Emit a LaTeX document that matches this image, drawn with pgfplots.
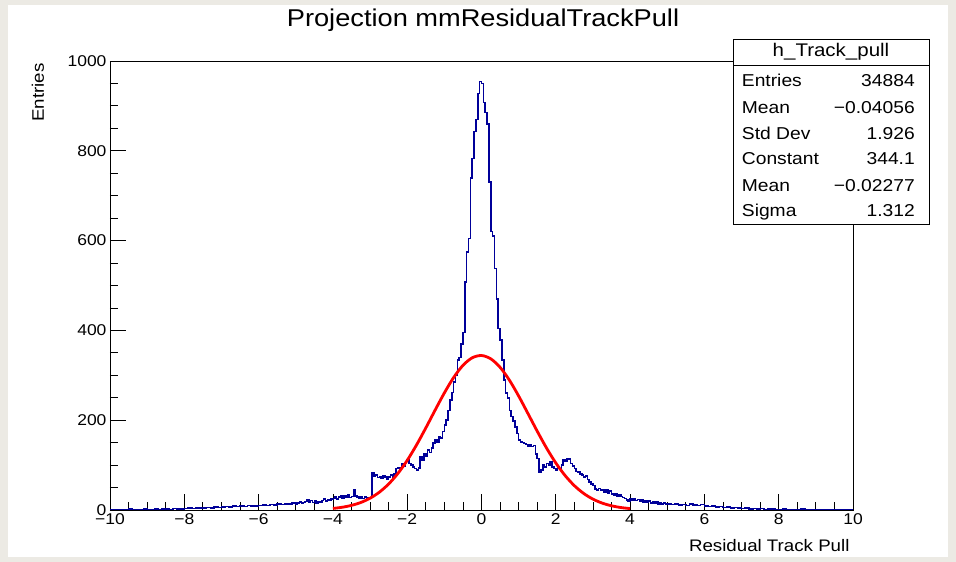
\documentclass[border=0pt]{standalone}
\usepackage{pgfplots}
\usepackage{pgfplotstable}
\pgfplotsset{compat=1.18}
\usepackage{fontspec}
\setmainfont{Liberation Sans}[FakeStretch=1.12]
\definecolor{rootblue}{RGB}{0,0,153}
\definecolor{bgbeige}{RGB}{236,234,228}

\pgfplotstableread{
x y
-10.0 1
-9.9 0
-9.8 1
-9.7 0
-9.6 1
-9.5 2
-9.4 1
-9.3 1
-9.2 0
-9.1 2
-9.0 1
-8.9 1
-8.8 2
-8.7 1
-8.6 2
-8.5 2
-8.4 1
-8.3 3
-8.2 2
-8.1 2
-8.0 3
-7.9 4
-7.8 3
-7.7 5
-7.6 4
-7.5 5
-7.4 6
-7.3 5
-7.2 7
-7.1 6
-7.0 7
-6.9 8
-6.8 7
-6.7 9
-6.6 8
-6.5 9
-6.4 8
-6.3 10
-6.2 9
-6.1 9
-6.0 10
-5.9 11
-5.8 10
-5.7 12
-5.6 11
-5.5 13
-5.4 12
-5.3 14
-5.2 13
-5.1 15
-5.00 14
-4.95 16
-4.90 18
-4.85 15
-4.80 17
-4.75 19
-4.70 22
-4.65 18
-4.60 21
-4.55 17
-4.50 20
-4.45 16
-4.40 19
-4.35 18
-4.30 21
-4.25 24
-4.20 20
-4.15 23
-4.10 22
-4.05 25
-4.00 26
-3.95 30
-3.90 24
-3.85 29
-3.80 32
-3.75 27
-3.70 31
-3.65 29
-3.60 33
-3.55 28
-3.50 30
-3.45 44
-3.40 31
-3.35 29
-3.30 27
-3.25 30
-3.20 26
-3.15 29
-3.10 25
-3.05 27
-3.00 28
-2.95 82
-2.90 76
-2.85 78
-2.80 72
-2.75 75
-2.70 70
-2.65 76
-2.60 74
-2.55 68
-2.50 74
-2.45 78
-2.40 72
-2.35 80
-2.30 92
-2.25 95
-2.20 90
-2.15 103
-2.10 98
-2.05 108
-2.00 111
-1.95 104
-1.90 100
-1.85 96
-1.80 92
-1.75 89
-1.70 94
-1.65 119
-1.60 112
-1.55 126
-1.50 120
-1.45 134
-1.40 128
-1.35 138
-1.30 149
-1.25 156
-1.20 152
-1.15 164
-1.10 160
-1.05 175
-1.00 189
-0.95 200
-0.90 222
-0.85 245
-0.80 262
-0.75 285
-0.70 300
-0.65 334
-0.60 340
-0.55 370
-0.50 395
-0.45 508
-0.40 575
-0.35 605
-0.30 739
-0.25 783
-0.20 843
-0.15 870
-0.10 928
-0.05 954
0.00 950
0.05 908
0.10 885
0.15 860
0.20 731
0.25 620
0.30 610
0.35 538
0.40 470
0.45 404
0.50 378
0.55 334
0.60 289
0.65 260
0.70 250
0.75 222
0.80 208
0.85 198
0.90 185
0.95 170
1.00 156
1.05 152
1.10 150
1.15 148
1.20 146
1.25 142
1.30 146
1.35 141
1.40 144
1.45 125
1.50 115
1.55 85
1.60 89
1.65 100
1.70 96
1.75 104
1.80 100
1.85 108
1.90 96
1.95 92
2.00 89
2.05 94
2.10 90
2.15 100
2.20 112
2.25 108
2.30 115
2.35 113
2.40 104
2.45 98
2.50 92
2.55 86
2.60 84
2.65 80
2.70 78
2.75 74
2.80 76
2.85 68
2.90 62
2.95 58
3.00 55
3.05 47
3.10 45
3.15 48
3.20 44
3.25 46
3.30 40
3.35 44
3.40 38
3.45 42
3.50 36
3.55 34
3.60 37
3.65 31
3.70 33
3.75 30
3.80 28
3.85 26
3.90 22
3.95 20
4.00 24
4.05 22
4.10 25
4.15 21
4.20 23
4.25 19
4.30 22
4.35 18
4.40 21
4.45 17
4.50 20
4.55 16
4.60 19
4.65 15
4.70 18
4.75 14
4.80 17
4.85 13
4.90 16
4.95 14
5.0 13
5.1 12
5.2 14
5.3 11
5.4 12
5.5 10
5.6 13
5.7 11
5.8 10
5.9 12
6.0 9
6.1 8
6.2 9
6.3 7
6.4 8
6.5 6
6.6 7
6.7 5
6.8 6
6.9 4
7.0 3
7.1 4
7.2 2
7.3 3
7.4 2
7.5 3
7.6 1
7.7 2
7.8 2
7.9 1
8.0 1
8.1 2
8.2 0
8.3 1
8.4 1
8.5 0
8.6 2
8.7 1
8.8 0
8.9 1
9.0 1
9.1 0
9.2 1
9.3 0
9.4 1
9.5 1
9.6 0
9.7 1
9.8 0
9.9 1
10.0 1
}\histdata

\pgfplotstableread{
x y
-4.00 3.48
-3.75 6.08
-3.50 10.27
-3.25 16.70
-3.00 26.20
-2.75 39.66
-2.50 57.88
-2.25 81.45
-2.00 110.5
-1.75 144.7
-1.50 182.6
-1.25 222.2
-1.00 260.7
-0.75 295.1
-0.50 322.1
-0.25 339.0
0.00 344.05
0.25 336.7
0.50 317.8
0.75 289.3
1.00 253.9
1.25 214.9
1.50 175.5
1.75 138.1
2.00 104.8
2.25 76.75
2.50 54.18
2.75 36.89
3.00 24.21
3.25 15.33
3.50 9.36
3.75 5.51
4.00 3.13
}\fitdata

\begin{document}
\begin{tikzpicture}
\fill[bgbeige] (0pt,0pt) rectangle (956pt,562pt);
\fill[white] (8pt,5pt) rectangle (948pt,557pt);
\begin{axis}[
  at={(110pt,52pt)}, anchor=south west,
  scale only axis, width=743pt, height=449pt,
  xmin=-10, xmax=10, ymin=0, ymax=1000,
  xtick={-10,-8,...,10},
  xticklabels={−10,−8,−6,−4,−2,0,2,4,6,8,10},
  ytick={0,200,...,1000},
  yticklabels={0,200,400,600,800,1000},
  minor x tick num=3, minor y tick num=3,
  tick pos=left,
  major tick length=16pt, minor tick length=8pt,
  tick style={black, line width=0.8pt},
  axis line style={line width=0.8pt},
  ticklabel style={font=\fontsize{15.6}{16}\selectfont},
  clip=true,
]
\addplot[rootblue, line width=1.6pt, const plot mark left] table[x=x,y=y] {\histdata};
\addplot[red, line width=2.8pt, smooth] table[x=x,y=y] {\fitdata};
\end{axis}
\node[font=\fontsize{24.3}{26}\selectfont] at (483pt,542pt) {Projection mmResidualTrackPull};
\node[anchor=east, font=\fontsize{16.7}{18}\selectfont] at (853pt,16pt) {Residual Track Pull};
\node[rotate=90, anchor=east, font=\fontsize{16.7}{18}\selectfont] at (38pt,502pt) {Entries};
% stats box
\draw[fill=white, line width=1pt] (733pt,337pt) rectangle (929pt,522pt);
\draw[line width=1pt] (733pt,496pt) -- (929pt,496pt);
\node[font=\fontsize{18.3}{20}\selectfont] at (831pt,510pt) {h\_Track\_pull};
\begin{scope}[every node/.style={font=\fontsize{17.2}{19}\selectfont, inner sep=0pt}]
\node[anchor=base west] at (741.7pt,475.9pt) {Entries};
\node[anchor=base east] at (915pt,475.9pt) {34884};
\node[anchor=base west] at (741.7pt,448.6pt) {Mean};
\node[anchor=base east] at (915pt,448.6pt) {−0.04056};
\node[anchor=base west] at (741.7pt,422.6pt) {Std Dev};
\node[anchor=base east] at (915pt,422.6pt) {1.926};
\node[anchor=base west] at (741.7pt,397.6pt) {Constant};
\node[anchor=base east] at (915pt,397.6pt) {344.1};
\node[anchor=base west] at (741.7pt,370.9pt) {Mean};
\node[anchor=base east] at (915pt,370.9pt) {−0.02277};
\node[anchor=base west] at (741.7pt,345.9pt) {Sigma};
\node[anchor=base east] at (915pt,345.9pt) {1.312};
\end{scope}
\end{tikzpicture}
\end{document}
